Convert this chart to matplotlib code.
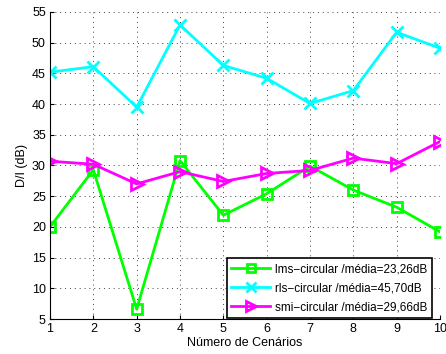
import matplotlib
matplotlib.use("Agg")
import matplotlib.pyplot as plt

x = [1, 2, 3, 4, 5, 6, 7, 8, 9, 10]
lms = [20.0, 29.3, 6.6, 30.8, 21.9, 25.4, 29.9, 26.0, 23.2, 19.2]
rls = [45.2, 46.1, 39.5, 52.9, 46.3, 44.2, 40.1, 42.2, 51.7, 49.1]
smi = [30.7, 30.2, 27.0, 29.0, 27.4, 28.7, 29.2, 31.2, 30.3, 33.9]
labels = ["lms\u2212circular /média=23,26dB",
          "rls\u2212circular /média=45,70dB",
          "smi\u2212circular /média=29,66dB"]

plt.rcParams['font.family'] = ['Liberation Sans', 'DejaVu Sans']
fig = plt.figure(figsize=(4.46, 3.54), dpi=100)
ax = fig.add_axes([50/446, 1 - 319/354, 390/446, 307/354])

ax.plot(x, lms, color='#00ff00', lw=2, marker='s', ms=7.5, mfc='none', mew=2, label=labels[0])
ax.plot(x, rls, color='#00ffff', lw=2, marker='x', ms=8, mew=2, label=labels[1])
ax.plot(x, smi, color='#ff00ff', lw=2, marker='>', ms=9, mfc='none', mew=2, label=labels[2])

ax.set_xlim(1, 10)
ax.set_ylim(5, 55)
ax.set_xticks(range(1, 11))
ax.set_yticks(range(5, 56, 5))
ax.grid(True, color='black', linestyle=(0, (1, 4)), linewidth=0.7, alpha=0.75)
for s in ['top', 'right']:
    ax.spines[s].set_visible(False)
ax.tick_params(direction='in', labelsize=9, length=3, pad=3)
ax.set_xlabel("Número de Cenários", fontsize=9, labelpad=1)
ax.set_ylabel("D/I (dB)", fontsize=9, labelpad=3)

leg = ax.legend(loc='lower right', bbox_to_anchor=(432/446, 1 - 318/354),
                bbox_transform=fig.transFigure, fontsize=8.5, fancybox=False,
                edgecolor='black', framealpha=1, handlelength=3.3, borderaxespad=0,
                labelspacing=0.6, handletextpad=0.4, borderpad=0.4, markerscale=0.85)
leg.get_frame().set_linewidth(1.2)

fig.savefig("out.png", dpi=100)
